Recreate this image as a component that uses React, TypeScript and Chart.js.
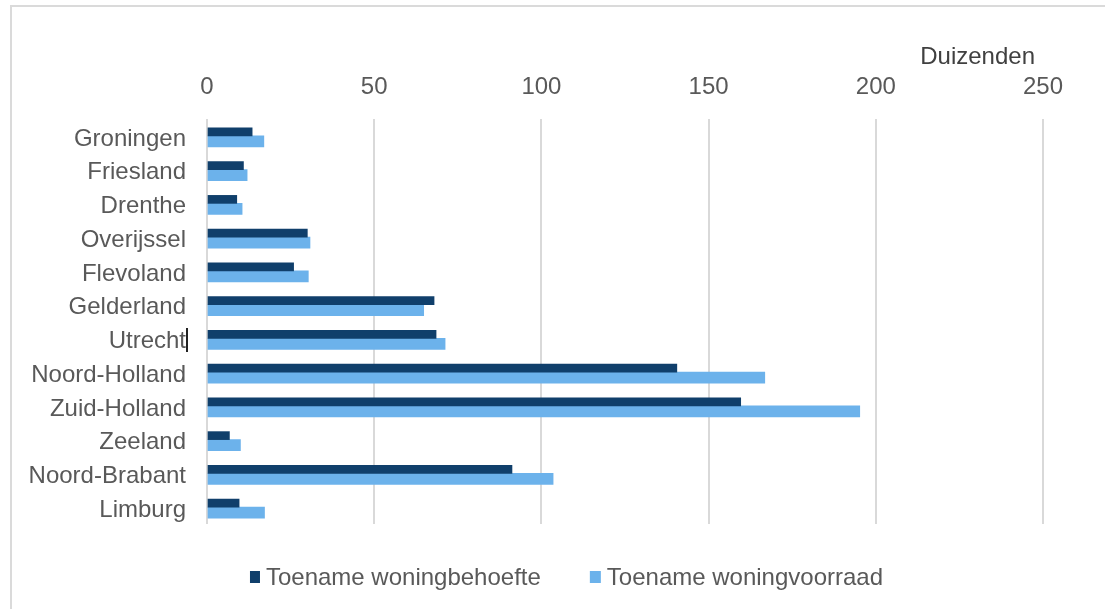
import React, { useEffect, useRef } from 'react';
import { Chart, registerables } from 'chart.js';

Chart.register(...registerables);

const categories = [
  'Groningen',
  'Friesland',
  'Drenthe',
  'Overijssel',
  'Flevoland',
  'Gelderland',
  'Utrecht',
  'Noord-Holland',
  'Zuid-Holland',
  'Zeeland',
  'Noord-Brabant',
  'Limburg',
];
const woningbehoefte = [13.5, 10.9, 8.9, 30.0, 25.9, 67.9, 68.5, 140.5, 159.6, 6.7, 91.2, 9.6];
const woningvoorraad = [17.0, 12.0, 10.5, 30.8, 30.3, 64.8, 71.2, 166.8, 195.2, 10.0, 103.5, 17.2];
const seriesLabels = ['Toename woningbehoefte', 'Toename woningvoorraad'];
const seriesColors = ['#103f6b', '#6cb2eb'];
const xMin = 0;
const xMax = 250;
const xStep = 50;
const unitLabel = 'Duizenden';

const FONT = '"Liberation Sans", Arial, Helvetica, sans-serif';
const FONT_SIZE = 24;

export default function App() {
  const canvasRef = useRef<HTMLCanvasElement>(null);

  useEffect(() => {
    const canvas = canvasRef.current;
    if (!canvas) return;

    const decor = {
      id: 'decor',
      afterDraw(chart: any) {
        const { ctx, chartArea } = chart;
        ctx.save();
        // outer frame (left and top edges visible)
        ctx.strokeStyle = '#dadada';
        ctx.lineWidth = 2;
        ctx.beginPath();
        ctx.moveTo(11, chart.height);
        ctx.lineTo(11, 6);
        ctx.lineTo(chart.width, 6);
        ctx.stroke();

        // unit label
        ctx.font = `${FONT_SIZE}px ${FONT}`;
        ctx.fillStyle = '#404040';
        ctx.textAlign = 'right';
        ctx.textBaseline = 'middle';
        ctx.fillText(unitLabel, chartArea.right - 8, 57);

        // text cursor artefact next to "Utrecht"
        ctx.fillStyle = '#222222';
        ctx.fillRect(186, 328, 2, 24);

        // legend
        const ds = chart.data.datasets;
        const boxW = [10, 11];
        const boxH = 12;
        const gapBoxText = 6;
        const gapItems = 49;
        ctx.font = `${FONT_SIZE}px ${FONT}`;
        const widths = ds.map((d: any, i: number) => boxW[i] + gapBoxText + ctx.measureText(d.label).width);
        const total = widths.reduce((a: number, b: number) => a + b, 0) + gapItems * (ds.length - 1);
        let x = 566.5 - total / 2;
        const cy = 577;
        ds.forEach((d: any, i: number) => {
          ctx.fillStyle = d.backgroundColor;
          ctx.fillRect(x, cy - boxH / 2, boxW[i], boxH);
          ctx.fillStyle = '#595959';
          ctx.textAlign = 'left';
          ctx.textBaseline = 'middle';
          ctx.fillText(d.label, x + boxW[i] + gapBoxText, cy + 1);
          x += widths[i] + gapItems;
        });
        ctx.restore();
      },
    };

    const chart = new Chart(canvas, {
      type: 'bar',
      data: {
        labels: categories,
        datasets: [
          {
            label: seriesLabels[0],
            data: woningbehoefte,
            backgroundColor: seriesColors[0],
            barThickness: 8,
          },
          {
            label: seriesLabels[1],
            data: woningvoorraad,
            backgroundColor: seriesColors[1],
            barThickness: 11,
          },
        ],
      },
      options: {
        indexAxis: 'y',
        animation: false,
        responsive: false,
        layout: { padding: { left: 0, right: 62, top: 0, bottom: 85 } },
        plugins: {
          legend: { display: false },
          tooltip: { enabled: false },
        },
        scales: {
          x: {
            position: 'top',
            min: xMin,
            max: xMax,
            afterFit(scale: any) {
              scale.height = 119;
            },
            ticks: {
              stepSize: xStep,
              color: '#595959',
              padding: 17,
              font: { family: FONT, size: FONT_SIZE },
            },
            grid: {
              color: '#d9d9d9',
              lineWidth: 2,
              drawTicks: false,
            },
            border: { display: false },
          },
          y: {
            afterFit(scale: any) {
              scale.width = 207;
            },
            ticks: {
              color: '#595959',
              padding: 21,
              labelOffset: 3,
              font: { family: FONT, size: FONT_SIZE },
            },
            grid: { display: false, drawTicks: false },
            border: { display: false },
          },
        },
      },
      plugins: [decor],
    });

    return () => chart.destroy();
  }, []);

  return (
    <div style={{ position: 'absolute', left: 0, top: 0, width: 1105, height: 609, background: '#ffffff' }}>
      <canvas ref={canvasRef} width={1105} height={609} style={{ display: 'block' }} />
    </div>
  );
}
